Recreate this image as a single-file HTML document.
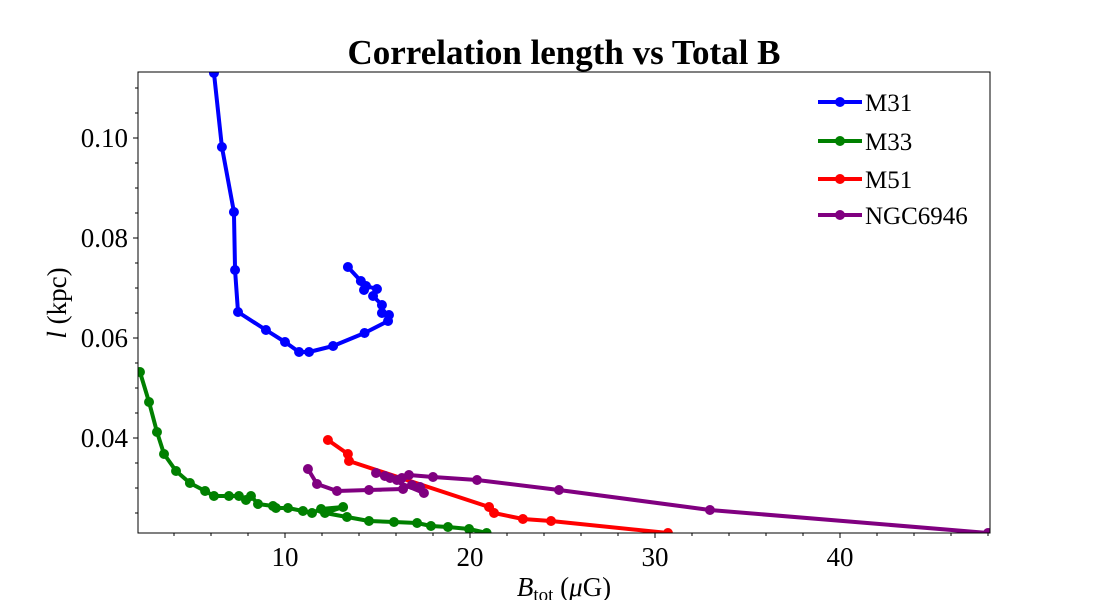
<!DOCTYPE html>
<html><head><meta charset="utf-8"><style>
body{margin:0;background:#fff;}
svg text{font-family:"Liberation Serif",serif;fill:#000;}
</style></head><body>
<svg id="chart" width="1100" height="600" xmlns="http://www.w3.org/2000/svg">
<text x="564" y="64" font-size="35" font-weight="bold" text-anchor="middle">Correlation length vs Total B</text>
<g id="plot"></g>
<text x="564" y="596" font-size="27" text-anchor="middle"><tspan font-style="italic">B</tspan><tspan font-size="19" dy="5">tot</tspan><tspan dy="-5"> (</tspan><tspan font-style="italic">μ</tspan>G)</text>
<text transform="translate(66,303) rotate(-90)" font-size="27" text-anchor="middle"><tspan font-style="italic">l</tspan> (kpc)</text>
</svg>
<script>
const xTicks=[10,20,30,40];
const yTicks=[0.04,0.06,0.08,0.10];
const yTickLabels=["0.04","0.06","0.08","0.10"];
const seriesNames=["M31","M33","M51","NGC6946"];
const m31X=[6.05,6.16,6.59,7.24,7.30,7.46,8.97,10.0,10.76,11.3,12.6,14.3,15.57,15.62,15.24,15.24,14.76,14.97,14.38,14.27,14.1,13.4];
const m31Y=[0.1196,0.113,0.0982,0.0852,0.0736,0.0652,0.0616,0.0592,0.0572,0.0572,0.0584,0.061,0.0634,0.0646,0.065,0.0666,0.0684,0.0698,0.0704,0.0696,0.0714,0.0742];
const m33X=[2.16,2.65,3.08,3.46,4.11,4.86,5.68,6.16,6.97,7.51,7.89,8.16,8.54,9.35,9.51,10.16,10.97,11.46,11.95,13.14,12.16,13.35,14.54,15.89,17.14,17.89,18.81,19.95,20.9];
const m33Y=[0.0532,0.0472,0.0412,0.0368,0.0334,0.031,0.0294,0.0284,0.0284,0.0284,0.0276,0.0284,0.0268,0.0264,0.026,0.026,0.0254,0.025,0.0258,0.0262,0.025,0.0242,0.0234,0.0232,0.023,0.0224,0.0222,0.0218,0.021];
const m51X=[12.32,13.4,13.46,21.03,21.3,22.86,24.38,30.7];
const m51Y=[0.0396,0.0368,0.0354,0.0262,0.025,0.0238,0.0234,0.021];
const ngcX=[11.24,11.73,12.81,14.54,16.38,16.86,17.3,17.51,14.92,15.4,15.68,16.05,16.32,16.7,18.0,20.38,24.81,32.97,48.0];
const ngcY=[0.0338,0.0308,0.0294,0.0296,0.0298,0.0306,0.0302,0.029,0.033,0.0324,0.032,0.0316,0.032,0.0326,0.0322,0.0316,0.0296,0.0256,0.021];
const colors=["#0000ff","#008000","#ff0000","#800080"];
const L=138,R=990,T=72,B=533;
const sx=v=>100+v*18.5;
const sy=v=>638-v*5000;
const NS="http://www.w3.org/2000/svg";
const g=document.getElementById('plot');
function mk(t,a,p){const e=document.createElementNS(NS,t);for(const k in a)e.setAttribute(k,a[k]);(p||g).appendChild(e);return e;}
const defs=mk('defs',{});
const cp=mk('clipPath',{id:'clip'},defs);
mk('rect',{x:L,y:T,width:R-L,height:B-T},cp);
const data=[[m31X,m31Y],[m33X,m33Y],[m51X,m51Y],[ngcX,ngcY]];
const sg=mk('g',{'clip-path':'url(#clip)'});
data.forEach((d,i)=>{
  const pts=d[0].map((x,j)=>sx(x)+','+sy(d[1][j])).join(' ');
  const pl=mk('polyline',{points:pts,fill:'none',stroke:colors[i],'stroke-width':4,'stroke-linejoin':'round'},sg);
  
  
  d[0].forEach((x,j)=>{
    const c=mk('circle',{cx:sx(x),cy:sy(d[1][j]),r:5,fill:colors[i]},sg);
    
    
  });
});
const frame=mk('rect',{x:L,y:T,width:R-L,height:B-T,fill:'none',stroke:'#000','stroke-width':1});


xTicks.forEach(v=>{
  mk('line',{x1:sx(v),x2:sx(v),y1:B,y2:B+5,stroke:'#000'});
  const t=mk('text',{x:sx(v),y:B+33,'font-size':27,'text-anchor':'middle'});
  t.textContent=v;
  
  
});
for(let v=4;v<=48;v+=2){if(v%10)mk('line',{x1:sx(v),x2:sx(v),y1:B,y2:B+3,stroke:'#000'});}
yTicks.forEach((v,i)=>{
  mk('line',{x1:L-5,x2:L,y1:sy(v),y2:sy(v),stroke:'#000'});
  const t=mk('text',{x:L-10,y:sy(v)+9,'font-size':27,'text-anchor':'end'});
  t.textContent=yTickLabels[i];
  
  
});
for(let k=5;k<=22;k++){const v=k*0.005;const y=sy(v);if(y>T&&y<B&&k%4)mk('line',{x1:L-3,x2:L,y1:y,y2:y,stroke:'#000'});}
const lg=mk('g',{});


const ly=[102,141,179,215];
seriesNames.forEach((n,i)=>{
  const e=mk('g',{},lg);
  
  
  mk('line',{x1:818,x2:862,y1:ly[i],y2:ly[i],stroke:colors[i],'stroke-width':4},e);
  mk('circle',{cx:840,cy:ly[i],r:5,fill:colors[i]},e);
  const t=mk('text',{x:865,y:ly[i]+9,'font-size':25},e);
  t.textContent=n;
});
</script>
</body></html>
